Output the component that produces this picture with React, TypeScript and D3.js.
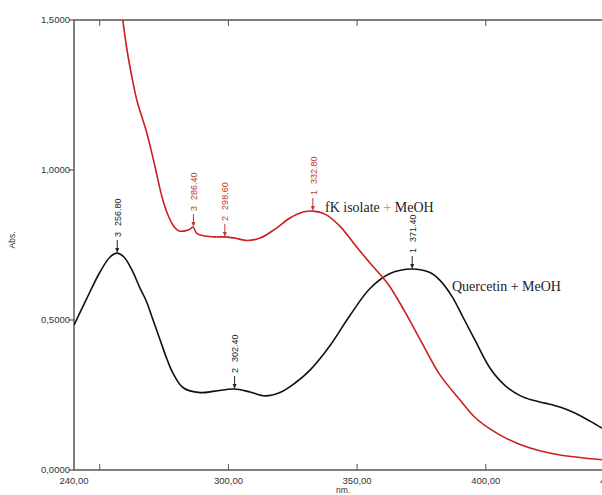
import React, { useEffect, useRef } from "react";
import * as d3 from "d3";

// Quercetin + MeOH (black)
const quercetinNm = [240, 244.7, 250.1, 254, 256.7, 259.4, 262.5, 265.6, 268, 270.3, 273.4, 276.1, 278.5, 282.3, 289, 294.8, 302.2, 308.4, 314.2, 320, 325.9, 331.7, 339.5, 347.2, 355, 362.8, 371.3, 378.3, 382.2, 386.9, 391.1, 395.8, 401.6, 407.4, 413.3, 418, 423, 428.8, 434.6, 440.5, 445.1];
const quercetinAbs = [0.483, 0.567, 0.66, 0.71, 0.723, 0.71, 0.667, 0.607, 0.565, 0.51, 0.435, 0.37, 0.322, 0.275, 0.258, 0.263, 0.27, 0.26, 0.247, 0.258, 0.29, 0.333, 0.415, 0.515, 0.605, 0.655, 0.67, 0.658, 0.632, 0.578, 0.51, 0.433, 0.34, 0.282, 0.248, 0.233, 0.223, 0.21, 0.19, 0.163, 0.14];

// fK isolate + MeOH (red)
const isolateNm = [258.5, 260.6, 262.5, 264.5, 268.4, 271.5, 274.2, 276.5, 278.8, 280.8, 283.1, 285.1, 286.2, 287.8, 290.9, 294.8, 298.7, 302.5, 307.2, 312.3, 318.1, 323.9, 329, 332.9, 337.5, 343.3, 349.2, 355, 362, 368.6, 375.6, 382.2, 390, 395.8, 401.6, 407.4, 413.3, 421, 428.8, 445.1];
const isolateAbs = [1.53, 1.4, 1.31, 1.23, 1.12, 1.01, 0.91, 0.85, 0.812, 0.797, 0.797, 0.803, 0.81, 0.788, 0.78, 0.777, 0.777, 0.773, 0.765, 0.773, 0.803, 0.84, 0.86, 0.863, 0.853, 0.813, 0.75, 0.69, 0.62, 0.527, 0.417, 0.317, 0.233, 0.175, 0.137, 0.108, 0.085, 0.064, 0.05, 0.034];

// peak picks
const quercetinPeakNo = [3, 2, 1];
const quercetinPeakNm = [256.8, 302.4, 371.4];
const quercetinPeakAbs = [0.723, 0.27, 0.67];
const isolatePeakNo = [3, 2, 1];
const isolatePeakNm = [286.4, 298.6, 332.8];
const isolatePeakAbs = [0.81, 0.777, 0.863];

const xTicks = [250, 300, 350, 400, 450];
const xTickLabels = [240, 300, 350, 400, 450];
const yTicks = [0, 0.5, 1.0, 1.5];

export default function App() {
  const ref = useRef<SVGSVGElement>(null);
  const width = 602;
  const height = 495;

  useEffect(() => {
    const svg = d3.select(ref.current);
    svg.selectAll("*").remove();

    const x = d3.scaleLinear().domain([240, 450]).range([74, 614.5]);
    const y = d3.scaleLinear().domain([0, 1.5]).range([470, 20]);
    const axisColor = "#555";
    const comma = (f: string) => (v: number) => d3.format(f)(v).replace(".", ",");

    svg
      .append("defs")
      .append("clipPath")
      .attr("id", "plot")
      .append("rect")
      .attr("x", 74)
      .attr("y", 20)
      .attr("width", 560)
      .attr("height", 450);

    // frame
    svg
      .append("path")
      .attr("d", `M${x(450)},20H74V470H${x(450)}`)
      .attr("fill", "none")
      .attr("stroke", axisColor)
      .attr("stroke-width", 1.5);

    // y ticks
    svg
      .selectAll(".yt")
      .data(yTicks)
      .enter()
      .append("line")
      .attr("x1", 69)
      .attr("x2", 74)
      .attr("y1", (d) => y(d))
      .attr("y2", (d) => y(d))
      .attr("stroke", axisColor)
      .attr("stroke-width", 1.2);

    svg
      .selectAll(".yl")
      .data(yTicks)
      .enter()
      .append("text")
      .attr("x", 70)
      .attr("y", (d) => y(d))
      .attr("dy", "0.35em")
      .attr("text-anchor", "end")
      .style("font-family", "Liberation Sans, Arial, sans-serif")
      .style("font-size", "9.5px")
      .style("fill", "#333")
      .text((d) => comma(".4f")(d));

    // x ticks (bottom, pointing up; top, pointing down)
    svg
      .selectAll(".xb")
      .data(xTicks)
      .enter()
      .append("line")
      .attr("x1", (d) => x(d))
      .attr("x2", (d) => x(d))
      .attr("y1", 470)
      .attr("y2", 464)
      .attr("stroke", axisColor)
      .attr("stroke-width", 1);

    svg
      .selectAll(".xt")
      .data(xTicks)
      .enter()
      .append("line")
      .attr("x1", (d) => x(d))
      .attr("x2", (d) => x(d))
      .attr("y1", 20)
      .attr("y2", 26)
      .attr("stroke", axisColor)
      .attr("stroke-width", 1);

    svg
      .selectAll(".xl")
      .data(xTickLabels)
      .enter()
      .append("text")
      .attr("x", (d) => x(d))
      .attr("y", 484)
      .attr("text-anchor", "middle")
      .style("font-family", "Liberation Sans, Arial, sans-serif")
      .style("font-size", "9.5px")
      .style("fill", "#333")
      .text((d) => comma(".2f")(d));

    svg
      .append("text")
      .attr("x", 343)
      .attr("y", 493)
      .attr("text-anchor", "middle")
      .style("font-family", "Liberation Sans, Arial, sans-serif")
      .style("font-size", "8.5px")
      .style("fill", "#333")
      .text("nm.");

    svg
      .append("text")
      .attr("transform", "translate(15,240) rotate(-90)")
      .attr("text-anchor", "middle")
      .style("font-family", "Liberation Sans, Arial, sans-serif")
      .style("font-size", "8.5px")
      .style("fill", "#333")
      .text("Abs.");

    // curves
    const line = d3
      .line<[number, number]>()
      .x((d) => x(d[0]))
      .y((d) => y(d[1]))
      .curve(d3.curveCatmullRom.alpha(0.5));

    const g = svg.append("g").attr("clip-path", "url(#plot)");

    g.append("path")
      .attr("d", line(quercetinNm.map((n, i) => [n, quercetinAbs[i]])))
      .attr("fill", "none")
      .attr("stroke", "#111")
      .attr("stroke-width", 1.6);

    g.append("path")
      .attr("d", line(isolateNm.map((n, i) => [n, isolateAbs[i]])))
      .attr("fill", "none")
      .attr("stroke", "#cc1f1f")
      .attr("stroke-width", 1.6);

    // peak markers
    const drawPeaks = (no: number[], nm: number[], ab: number[], color: string) => {
      nm.forEach((n, i) => {
        const px = x(n);
        const py = y(ab[i]);
        svg
          .append("line")
          .attr("x1", px)
          .attr("x2", px)
          .attr("y1", py - 13)
          .attr("y2", py - 3)
          .attr("stroke", color)
          .attr("stroke-width", 1);
        svg
          .append("path")
          .attr("d", `M${px - 2},${py - 5}L${px + 2},${py - 5}L${px},${py}Z`)
          .attr("fill", color);
        const t = svg
          .append("text")
          .attr("transform", `translate(${px + 0.5},${py - 16}) rotate(-90)`)
          .attr("dy", "0.35em")
          .style("font-family", "Liberation Sans, Arial, sans-serif")
          .style("font-size", "9px")
          .style("fill", color);
        t.append("tspan").text(String(no[i]));
        t.append("tspan").attr("dx", 6).text(n.toFixed(2));
      });
    };
    drawPeaks(quercetinPeakNo, quercetinPeakNm, quercetinPeakAbs, "#222");
    drawPeaks(isolatePeakNo, isolatePeakNm, isolatePeakAbs, "#c0392b");

    // series labels
    const fk = svg
      .append("text")
      .attr("x", 325)
      .attr("y", 212)
      .style("font-family", "Liberation Serif, Times New Roman, serif")
      .style("font-size", "14px")
      .style("fill", "#222");
    fk.append("tspan").text("fK isolate ");
    fk.append("tspan").style("fill", "#999").text("+");
    fk.append("tspan").text(" MeOH");

    svg
      .append("text")
      .attr("x", 452)
      .attr("y", 291)
      .style("font-family", "Liberation Serif, Times New Roman, serif")
      .style("font-size", "14px")
      .style("fill", "#222")
      .text("Quercetin + MeOH");
  }, []);

  return (
    <div style={{ position: "absolute", left: 0, top: 0 }}>
      <svg ref={ref} width={width} height={height} style={{ display: "block", background: "#fff" }} />
    </div>
  );
}
